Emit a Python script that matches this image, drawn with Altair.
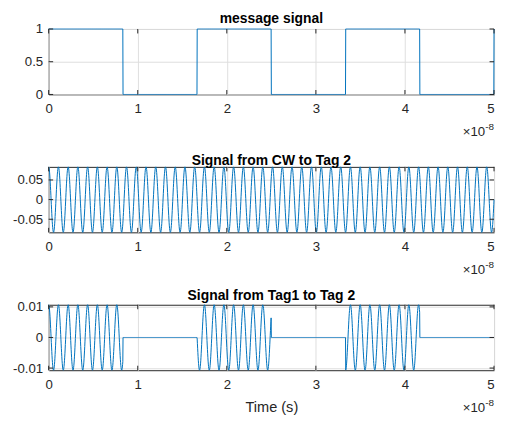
import numpy as np
import pandas as pd
import altair as alt

# ---- values ----
# time axis is in units of 1e-8 s
x_ticks = [0, 1, 2, 3, 4, 5]
bit_edges = [0.0, 0.8333, 1.6667, 2.5, 3.3333, 4.1667, 5.0]   # bit boundaries (x1e-8 s)
bit_values = [1, 0, 1, 0, 1, 0, 1]                              # message level after each edge
carrier_freq_hz = [915e6]                                       # UHF carrier (about 45.75 cycles in 50 ns)
cw_amplitude = [0.0833]
tag_amplitude = [0.0107]
msg_y_ticks = [0, 0.5, 1]
cw_y_ticks = [-0.05, 0, 0.05]
tag_y_ticks = [-0.01, 0, 0.01]
titles = ["message signal", "Signal from CW to Tag 2", "Signal from Tag1 to Tag 2"]

# ---- sampled signals ----
n = 2001
t = np.linspace(bit_edges[0], bit_edges[-1], n)          # x1e-8 s
idx = np.searchsorted(bit_edges, t, side="right") - 1
idx = np.clip(idx, 0, len(bit_values) - 1)
msg = np.array(bit_values)[idx].astype(float)
carrier = np.cos(2 * np.pi * carrier_freq_hz[0] * t * 1e-8)
cw = cw_amplitude[0] * carrier
tag = tag_amplitude[0] * carrier * msg

W, H = 449, 66
BLUE = "#0072BD"
AXC = "#262626"
FONT = "Liberation Sans"
TL = 4.5

YLAB = "(datum.value < 0 ? '-' : '') + format(abs(datum.value), '~g')"


def panel(values, y_dom, y_ticks, title, xlabel=None):
    df = pd.DataFrame({"t": t, "v": values})
    xs = alt.Scale(domain=[0, 5], nice=False, zero=False)
    ys = alt.Scale(domain=y_dom, nice=False, zero=False)
    xax = alt.Axis(values=x_ticks, grid=True, ticks=False, domain=False,
                   labelPadding=7.5, format="~g", labelFlush=False,
                   labelAlign={"condition": {"test": "datum.value === 5", "value": "right"},
                               "value": "center"},
                   title=xlabel if xlabel else None, titlePadding=9)
    yax = alt.Axis(values=y_ticks, grid=True, ticks=False, domain=False,
                   labelPadding=6, labelExpr=YLAB, title=None,
                   minExtent=39.7, maxExtent=39.7)
    X = alt.X("t:Q", scale=xs, axis=xax)
    Y = alt.Y("v:Q", scale=ys, axis=yax)
    line = alt.Chart(df).mark_line(color=BLUE, strokeWidth=1).encode(x=X, y=Y)
    xt = pd.DataFrame({"t": x_ticks})
    yt = pd.DataFrame({"v": y_ticks})
    xb = alt.Chart(xt).mark_rule(color=AXC, strokeWidth=1).encode(
        x=X, y=alt.value(H), y2=alt.value(H - TL))
    xtop = alt.Chart(xt).mark_rule(color=AXC, strokeWidth=1).encode(
        x=X, y=alt.value(0), y2=alt.value(TL))
    yl = alt.Chart(yt).mark_rule(color=AXC, strokeWidth=1).encode(
        y=Y, x=alt.value(0), x2=alt.value(TL))
    yr = alt.Chart(yt).mark_rule(color=AXC, strokeWidth=1).encode(
        y=Y, x=alt.value(W - TL), x2=alt.value(W))
    ex = pd.DataFrame({"s": ["\u00d710"]})
    sup = pd.DataFrame({"s": ["-8"]})
    exp1 = alt.Chart(ex).mark_text(align="right", baseline="alphabetic", font=FONT,
                                   fontSize=13.33, color=AXC).encode(
        x=alt.value(W - 9), y=alt.value(H + 42), text="s:N")
    exp2 = alt.Chart(sup).mark_text(align="right", baseline="alphabetic", font=FONT,
                                    fontSize=10, color=AXC).encode(
        x=alt.value(W), y=alt.value(H + 36), text="s:N")
    return alt.layer(line, xb, xtop, yl, yr, exp1, exp2).properties(
        width=W, height=H,
        title=alt.TitleParams(title, fontSize=14, fontWeight="bold", font=FONT,
                              color="black", offset=-3.5, anchor="middle", frame="group"),
    )


c1 = panel(msg, [0, 1], msg_y_ticks, titles[0])
c2 = panel(cw, [-cw_amplitude[0], cw_amplitude[0]], cw_y_ticks, titles[1])
c3 = panel(tag, [-tag_amplitude[0], tag_amplitude[0]], tag_y_ticks, titles[2], xlabel="Time (s)")

chart = alt.vconcat(c1, c2, c3, spacing=73, bounds="flush").properties(
    padding={"left": 0, "top": 1.5, "right": 0, "bottom": 0},
    background="white",
).configure_view(stroke=AXC, strokeWidth=1).configure_axis(
    labelFont=FONT, labelFontSize=13.33, labelColor=AXC,
    titleFont=FONT, titleFontSize=14.67, titleColor=AXC, titleFontWeight="normal",
    gridColor="#dfdfdf", gridWidth=1,
)

chart.save("out.html", embed_options={"renderer": "svg", "actions": False})
